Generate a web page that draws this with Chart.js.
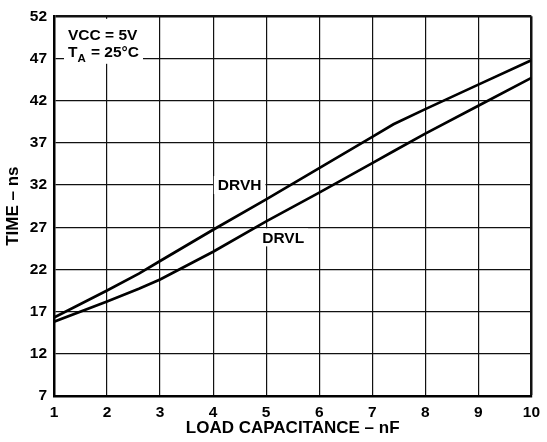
<!DOCTYPE html>
<html>
<head>
<meta charset="utf-8">
<script src="https://cdn.jsdelivr.net/npm/chart.js@4"></script>
<style>
  html, body { margin: 0; padding: 0; background: #fff; }
  #wrap { width: 547px; height: 442px; }
</style>
</head>
<body>
<div id="wrap"><canvas id="timeChart"></canvas></div>
<script>
const capacitance = [1, 2, 2.6, 3, 4, 5, 6, 7, 7.4, 8, 9, 10];
const drvhTime = [16.3, 19.5, 21.5, 23.0, 26.7, 30.3, 34.0, 37.7, 39.2, 41.0, 43.9, 46.8];
const drvlTime = [15.8, 18.2, 19.7, 20.8, 24.1, 27.7, 31.1, 34.6, 36.0, 38.1, 41.4, 44.7];

const xTicks = [1, 2, 3, 4, 5, 6, 7, 8, 9, 10];
const yTicks = [7, 12, 17, 22, 27, 32, 37, 42, 47, 52];

const FONT = "'Liberation Sans', Arial, Helvetica, sans-serif";

function toPoints(xs, ys) {
  return xs.map((x, i) => ({ x: x, y: ys[i] }));
}

// white boxed labels on top of the grid
const labelPlugin = {
  id: "labels",
  afterDraw(chart) {
    const ctx = chart.ctx;
    const xs = chart.scales.x;
    const ys = chart.scales.y;
    const area = chart.chartArea;

    ctx.save();
    ctx.fillStyle = "#fff";
    ctx.fillRect(area.left + 10, area.top + 2.5, 79, 45);

    ctx.fillStyle = "#000";
    ctx.textBaseline = "alphabetic";
    ctx.textAlign = "left";
    ctx.font = "bold 15.5px " + FONT;
    ctx.fillText("VCC = 5V", area.left + 14, area.top + 23.5);
    ctx.fillText("T", area.left + 14, area.top + 40.5);
    ctx.font = "bold 11.5px " + FONT;
    ctx.fillText("A", area.left + 23.5, area.top + 45.5);
    ctx.font = "bold 15.5px " + FONT;
    ctx.fillText("= 25°C", area.left + 37, area.top + 40.5);

    // series names
    ctx.textAlign = "center";
    ctx.textBaseline = "middle";
    const names = [
      { text: "DRVH", x: 4.5, y: 32 },
      { text: "DRVL", x: 5.32, y: 25.8 },
    ];
    names.forEach((n) => {
      const px = xs.getPixelForValue(n.x);
      const py = ys.getPixelForValue(n.y);
      const w = ctx.measureText(n.text).width;
      ctx.fillStyle = "#fff";
      ctx.fillRect(px - w / 2 - 4, py - 9, w + 8, 18);
      ctx.fillStyle = "#000";
      ctx.fillText(n.text, px, py + 1);
    });
    ctx.restore();
  },
};

new Chart(document.getElementById("timeChart"), {
  type: "scatter",
  data: {
    datasets: [
      {
        label: "DRVH",
        data: toPoints(capacitance, drvhTime),
        showLine: true,
        borderColor: "#000",
        borderWidth: 2.7,
        pointRadius: 0,
        tension: 0,
      },
      {
        label: "DRVL",
        data: toPoints(capacitance, drvlTime),
        showLine: true,
        borderColor: "#000",
        borderWidth: 2.7,
        pointRadius: 0,
        tension: 0,
      },
    ],
  },
  options: {
    responsive: true,
    maintainAspectRatio: false,
    animation: false,
    layout: { padding: { top: 12, right: 13, left: 0, bottom: 0 } },
    plugins: {
      legend: { display: false },
      tooltip: { enabled: false },
    },
    scales: {
      x: {
        type: "linear",
        min: 1,
        max: 10,
        afterBuildTicks: (scale) => {
          scale.ticks = xTicks.map((v) => ({ value: v }));
        },
        afterFit: (scale) => {
          scale.height = 46;
        },
        ticks: {
          color: "#000",
          padding: 7,
          font: { family: FONT, size: 15.5, weight: "bold" },
        },
        grid: {
          color: "#111",
          drawTicks: false,
          lineWidth: (c) => (c.index === xTicks.length - 1 ? 2.5 : 1.2),
        },
        border: { display: true, color: "#000", width: 2.5 },
        title: {
          display: true,
          text: "LOAD CAPACITANCE – nF",
          color: "#000",
          font: { family: FONT, size: 17, weight: "bold" },
          padding: { top: 0, bottom: 3 },
        },
      },
      y: {
        type: "linear",
        min: 7,
        max: 52,
        afterBuildTicks: (scale) => {
          scale.ticks = yTicks.map((v) => ({ value: v }));
        },
        afterFit: (scale) => {
          scale.width = 54;
        },
        ticks: {
          color: "#000",
          padding: 7,
          font: { family: FONT, size: 15.5, weight: "bold" },
        },
        grid: {
          color: "#111",
          drawTicks: false,
          lineWidth: (c) => (c.index === yTicks.length - 1 ? 2.5 : 1.2),
        },
        border: { display: true, color: "#000", width: 2.5 },
        title: {
          display: true,
          text: "TIME – ns",
          color: "#000",
          font: { family: FONT, size: 17, weight: "bold" },
          padding: { top: 3, bottom: 0 },
        },
      },
    },
  },
  plugins: [labelPlugin],
});
</script>
</body>
</html>
